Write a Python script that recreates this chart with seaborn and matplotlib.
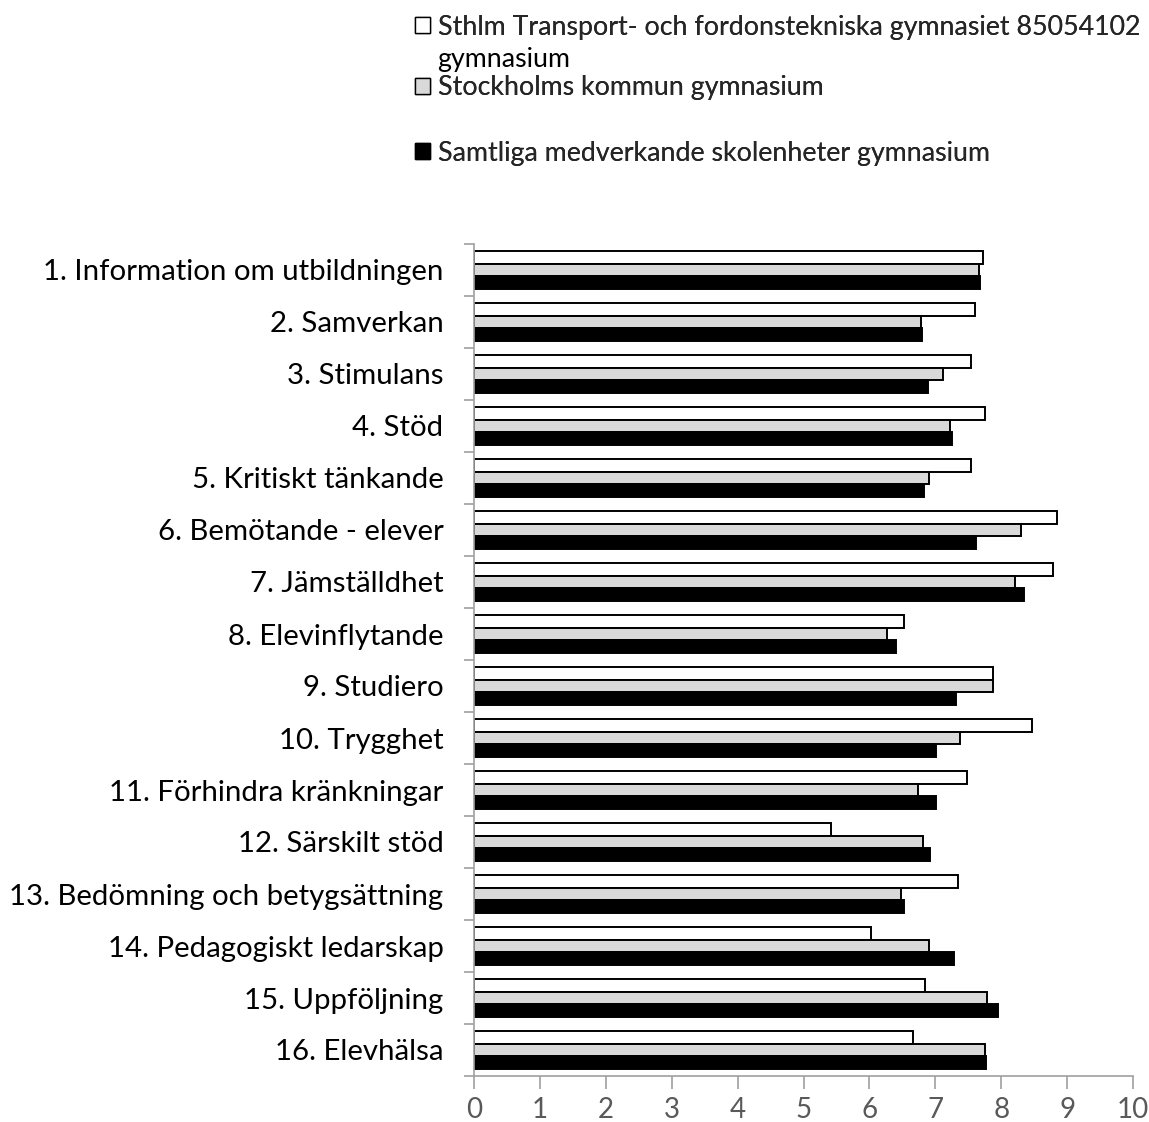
import numpy as np
import pandas as pd
import matplotlib
matplotlib.use("Agg")
import matplotlib.pyplot as plt
import seaborn as sns
from matplotlib.patches import Patch

categories = [
    "1. Information om utbildningen",
    "2. Samverkan",
    "3. Stimulans",
    "4. Stöd",
    "5. Kritiskt tänkande",
    "6. Bemötande - elever",
    "7. Jämställdhet",
    "8. Elevinflytande",
    "9. Studiero",
    "10. Trygghet",
    "11. Förhindra kränkningar",
    "12. Särskilt stöd",
    "13. Bedömning och betygsättning",
    "14. Pedagogiskt ledarskap",
    "15. Uppföljning",
    "16. Elevhälsa",
]

series_names = [
    "Sthlm Transport- och fordonstekniska gymnasiet 85054102 gymnasium",
    "Stockholms kommun gymnasium",
    "Samtliga medverkande skolenheter gymnasium",
]

school_values = [7.72, 7.61, 7.54, 7.76, 7.54, 8.85, 8.79, 6.52, 7.88, 8.46, 7.48, 5.42, 7.34, 6.03, 6.85, 6.66]
kommun_values = [7.66, 6.79, 7.12, 7.22, 6.91, 8.30, 8.21, 6.27, 7.88, 7.37, 6.73, 6.82, 6.48, 6.91, 7.79, 7.76]
samtliga_values = [7.68, 6.80, 6.89, 7.26, 6.83, 7.62, 8.34, 6.41, 7.32, 7.01, 7.01, 6.92, 6.52, 7.28, 7.95, 7.77]

x_ticks = [0, 1, 2, 3, 4, 5, 6, 7, 8, 9, 10]

colors = ["#FFFFFF", "#D9D9D9", "#000000"]

rows = []
for name, vals in zip(series_names, [school_values, kommun_values, samtliga_values]):
    for c, v in zip(categories, vals):
        rows.append({"Kategori": c, "Serie": name, "Värde": v})
df = pd.DataFrame(rows)

sns.set_theme(style="white")
plt.rcParams["font.family"] = ["Lato", "DejaVu Sans"]

W, H = 1149, 1122
fig = plt.figure(figsize=(W / 100, H / 100), dpi=100)
ax = fig.add_axes([474 / W, 1 - 1076 / H, (1133 - 474) / W, (1076 - 244) / H])

sns.barplot(
    data=df, y="Kategori", x="Värde", hue="Serie",
    order=categories, hue_order=series_names,
    palette=colors, orient="h", width=0.74,
    edgecolor="black", linewidth=1.4, ax=ax, legend=False,
)

ax.set_xlim(0, 10)
ax.set_ylim(len(categories) - 0.5, -0.5)
ax.set_xticks(x_ticks)
ax.set_xticklabels([str(t) for t in x_ticks], fontsize=20, color="#595959")
ax.set_yticks(range(len(categories)))
ax.set_yticklabels(categories, fontsize=21.2, color="black")
ax.set_yticks(np.arange(-0.5, len(categories), 1.0), minor=True)
ax.tick_params(axis="y", which="major", length=0, pad=22)
ax.tick_params(axis="y", which="minor", length=7, width=1.2, color="#A0A0A0", direction="out", left=True)
ax.tick_params(axis="x", which="major", length=9, width=1.2, color="#A0A0A0", direction="out", pad=6, bottom=True)
ax.set_xlabel("")
ax.set_ylabel("")
for s in ["top", "right"]:
    ax.spines[s].set_visible(False)
for s in ["left", "bottom"]:
    ax.spines[s].set_color("#A0A0A0")
    ax.spines[s].set_linewidth(1.2)
ax.grid(False)

# Legend entries (separate legends to mimic the original spacing)
legend_labels = [
    "Sthlm Transport- och fordonstekniska gymnasiet 85054102",
    "Stockholms kommun gymnasium",
    "Samtliga medverkande skolenheter gymnasium",
]
leg_y = [27, 88, 153]
leg_fs = 19.3
for lab, col, y in zip(legend_labels, colors, leg_y):
    h = Patch(facecolor=col, edgecolor="black", linewidth=1.0)
    lg = fig.legend(handles=[h], labels=[lab], loc="center left",
                    bbox_to_anchor=(415 / W, 1 - y / H),
                    frameon=False, fontsize=leg_fs, handlelength=0.55, handleheight=0.55,
                    handletextpad=0.32, borderaxespad=0, borderpad=0)
    fig.add_artist(lg)
fig.text(437 / W, 1 - 60 / H, "gymnasium", fontsize=leg_fs, va="center", ha="left", color="black")

fig.savefig("out.png", dpi=100, facecolor="white")
